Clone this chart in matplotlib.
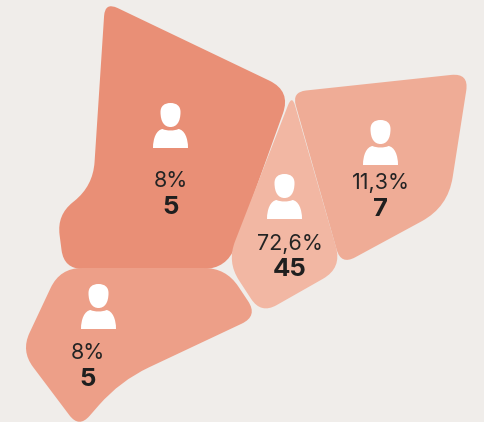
import numpy as np
import matplotlib
matplotlib.use("Agg")
import matplotlib.pyplot as plt
from matplotlib.path import Path
from matplotlib.patches import PathPatch

# -----------------------------
# Data
# -----------------------------
percents = ["8%", "72,6%", "11,3%", "8%"]
counts = ["5", "45", "7", "5"]
colors = ["#E98F76", "#F2B7A3", "#EFAC96", "#ED9F88"]

# outlines of the regions, in image pixels: x, y, corner radius
outline_a = [(105, 2, 14), (291, 91, 24), (227, 269, 24), (64, 269, 19),
             (57, 215, 20), (93, 186, 24)]
outline_b = [(292, 95, 11), (342, 268, 22), (261, 314, 18), (227, 262, 22)]
outline_c = [(292, 92, 14), (469, 73, 18), (448, 207, 30), (341, 265, 16)]
outline_d = [(60, 268, 22), (226, 268, 22), (258, 316, 18), (120, 381, 32),
             (79, 428, 16), (21, 351, 20)]
outlines = [outline_a, outline_b, outline_c, outline_d]

# icon centre x / icon top y, text lines x and y
icon_x = [170.5, 284.5, 380.5, 98.5]
icon_top = [103, 174, 120, 284]
text_x = [170.5, 290, 381, 88]
percent_y = [181, 244, 183, 353]
count_y = [207, 270, 209, 379]


def rounded_path(points):
    verts = []
    codes = []
    n = len(points)
    for i in range(n):
        p = np.array(points[i][:2], float)
        r = points[i][2]
        prev = np.array(points[i - 1][:2], float)
        nxt = np.array(points[(i + 1) % n][:2], float)
        a = p + (prev - p) / np.linalg.norm(prev - p) * r
        b = p + (nxt - p) / np.linalg.norm(nxt - p) * r
        verts.append(a)
        codes.append(Path.MOVETO if i == 0 else Path.LINETO)
        verts += [p, b]
        codes += [Path.CURVE3, Path.CURVE3]
    verts.append(verts[0])
    codes.append(Path.CLOSEPOLY)
    return Path(verts, codes)


def draw_person(ax, cx, top):
    # head
    head_pts = [(-10, 9), (-10, 3), (-6, 0), (0, 0), (6, 0), (10, 3), (10, 9),
                (10, 19), (6, 24), (0, 24), (-6, 24), (-10, 19), (-10, 9), (-10, 9)]
    head_codes = [Path.MOVETO] + [Path.CURVE4] * 12 + [Path.CLOSEPOLY]
    head = Path([(cx + x, top + y) for x, y in head_pts], head_codes)
    ax.add_patch(PathPatch(head, fc="white", ec="none"))
    # shoulders
    body_pts = [(-17.5, 45), (-17.5, 35), (-14, 27), (-8, 26), (-4, 28), (4, 28), (8, 26),
                (14, 27), (17.5, 35), (17.5, 45), (-17.5, 45)]
    body_codes = [Path.MOVETO] + [Path.CURVE4] * 9 + [Path.CLOSEPOLY]
    body = Path([(cx + x, top + y) for x, y in body_pts], body_codes)
    ax.add_patch(PathPatch(body, fc="white", ec="none"))


fig = plt.figure(figsize=(4.84, 4.22), dpi=100, facecolor="#F0EDEA")
ax = fig.add_axes([0, 0, 1, 1])
ax.set_xlim(0, 484)
ax.set_ylim(422, 0)
ax.axis("off")

for i in range(len(outlines)):
    ax.add_patch(PathPatch(rounded_path(outlines[i]), fc=colors[i], ec="none"))

for i in range(len(percents)):
    draw_person(ax, icon_x[i], icon_top[i])
    ax.text(text_x[i], percent_y[i], percents[i], ha="center", va="center",
            fontsize=15.5, family="Inter", color="#242424")
    ax.text(text_x[i], count_y[i], counts[i], ha="center", va="center",
            fontsize=18.5, family="Inter", fontweight="bold", color="#1F1F1F")

fig.savefig("out.png", dpi=100, facecolor=fig.get_facecolor())
